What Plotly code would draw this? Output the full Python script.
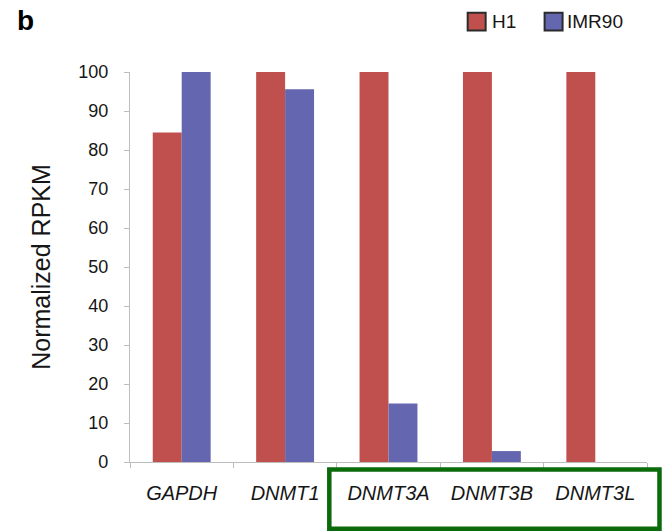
import plotly.graph_objects as go

# Expression data (RPKM normalised to the maximum of each gene)
genes = ["GAPDH", "DNMT1", "DNMT3A", "DNMT3B", "DNMT3L"]
h1_values = [84.5, 100, 100, 100, 100]
imr90_values = [100, 95.6, 15, 2.8, 0]
series_names = ["H1", "IMR90"]
y_ticks = list(range(0, 101, 10))

RED = "#C0504D"
BLUE = "#6466B0"
AXIS = "#BDBDBD"
TEXT = "#161616"
FONT = "Liberation Sans, Arial, Helvetica, sans-serif"

W, H = 663, 531
L, R, T, B = 130, 15.5, 71.5, 68.5
PW, PH = W - L - R, H - T - B


def px_x(x):
    return (x - L) / PW


def px_y(y):
    return (H - B - y) / PH


fig = go.Figure()
fig.add_trace(go.Bar(x=genes, y=h1_values, name=series_names[0],
                     marker=dict(color=RED, line=dict(width=0))))
fig.add_trace(go.Bar(x=genes, y=imr90_values, name=series_names[1],
                     marker=dict(color=BLUE, line=dict(width=0))))

shapes = [
    # box around the de novo methyltransferase genes
    dict(type="rect", xref="paper", yref="paper",
         x0=px_x(329.5), x1=px_x(660), y0=px_y(470), y1=px_y(529.5),
         line=dict(color="#0B6A0B", width=4.5), fillcolor="rgba(0,0,0,0)"),
    # legend swatches
    dict(type="rect", xref="paper", yref="paper",
         x0=px_x(468), x1=px_x(486), y0=px_y(12), y1=px_y(30),
         line=dict(color="#2b2b2b", width=2), fillcolor=RED),
    dict(type="rect", xref="paper", yref="paper",
         x0=px_x(545), x1=px_x(563), y0=px_y(12), y1=px_y(30),
         line=dict(color="#2b2b2b", width=2), fillcolor=BLUE),
]

annotations = [
    dict(text="<b>b</b>", xref="paper", yref="paper", x=px_x(15), y=px_y(20),
         xanchor="left", yanchor="middle", showarrow=False,
         font=dict(size=28, color="black", family=FONT)),
    dict(text=series_names[0], xref="paper", yref="paper", x=px_x(490), y=px_y(21),
         xanchor="left", yanchor="middle", showarrow=False,
         font=dict(size=19, color=TEXT, family=FONT)),
    dict(text=series_names[1], xref="paper", yref="paper", x=px_x(565), y=px_y(21),
         xanchor="left", yanchor="middle", showarrow=False,
         font=dict(size=19, color=TEXT, family=FONT)),
]

fig.update_layout(
    width=W, height=H,
    margin=dict(l=L, r=R, t=T, b=B, pad=0),
    paper_bgcolor="white", plot_bgcolor="white",
    barmode="group", bargap=0.44, bargroupgap=0,
    showlegend=False,
    shapes=shapes, annotations=annotations,
    font=dict(family=FONT, color=TEXT),
)

fig.update_xaxes(
    type="category",
    showline=True, linecolor=AXIS, linewidth=1.2,
    ticks="outside", tickson="boundaries", ticklen=5, tickcolor=AXIS, tickwidth=1.2,
    tickfont=dict(size=20, color=TEXT, family=FONT),
    ticklabelstandoff=13,
    tickvals=genes, ticktext=[f"<i>{g}</i>" for g in genes],
    showgrid=False, zeroline=False,
)

fig.update_yaxes(
    range=[0, 100], tickvals=y_ticks,
    showline=True, linecolor=AXIS, linewidth=1.2,
    ticks="outside", ticklen=5, tickcolor=AXIS, tickwidth=1.2,
    tickfont=dict(size=18, color=TEXT, family=FONT),
    ticklabelstandoff=12,
    showgrid=False, zeroline=False,
    title=dict(text="Normalized RPKM", standoff=20,
               font=dict(size=25, color=TEXT, family=FONT)),
)

fig.write_html("out.html")
